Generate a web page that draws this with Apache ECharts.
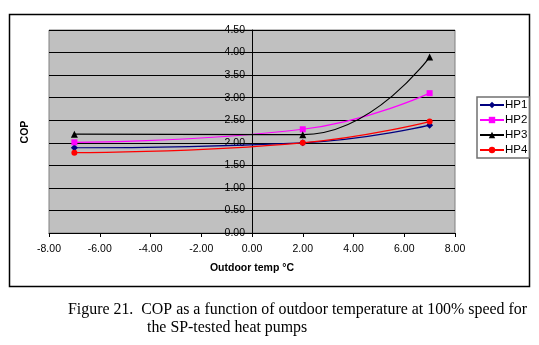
<!DOCTYPE html>
<html><head><meta charset="utf-8">
<script src="https://cdn.jsdelivr.net/npm/echarts@6/dist/echarts.min.js"></script>
<style>html,body{margin:0;padding:0;background:#fff}#c{width:539px;height:345px}</style>
</head><body><div id="c"></div>
<script>
const temps = [-7, 2, 7];
const hp1 = [1.89, 2.00, 2.39];
const hp2 = [2.01, 2.30, 3.10];
const hp3 = [2.19, 2.18, 3.90];
const hp4 = [1.78, 2.00, 2.47];
const seriesNames = ['HP1', 'HP2', 'HP3', 'HP4'];
const captionLines = ['Figure 21.  COP as a function of outdoor temperature at 100% speed for', 'the SP-tested heat pumps'];

const F = 'Liberation Sans, Arial, sans-serif';
const chart = echarts.init(document.getElementById('c'));
const GL = 49, GR = 455;
const yOffset = -((GR - GL) / 2); // put y axis at x = 0 of the -8..8 axis
function mk(name, vals, color, symbol, size) {
  return {
    name, type: 'line', smooth: 0.5, data: temps.map((t, i) => [t, vals[i]]),
    symbol, symbolSize: size, itemStyle: { color }, lineStyle: { color, width: 1.2 },
    z: 3
  };
}
chart.setOption({
  animation: false,
  textStyle: { fontFamily: F },
  grid: { left: GL, right: 539 - GR, top: 30, bottom: 112, show: true, backgroundColor: '#c0c0c0', borderColor: '#808080', borderWidth: 1 },
  xAxis: {
    type: 'value', min: -8, max: 8, interval: 2,
    name: 'Outdoor temp °C', nameLocation: 'middle', nameGap: 30,
    nameTextStyle: { fontFamily: F, fontWeight: 'bold', fontSize: 10.5, color: '#000' },
    axisLine: { onZero: false, lineStyle: { color: '#000', width: 1 } },
    axisTick: { show: true, length: 4, lineStyle: { color: '#000' } },
    axisLabel: { formatter: v => v.toFixed(2), fontSize: 10.5, color: '#000', margin: 11, fontFamily: F },
    splitLine: { show: false }
  },
  yAxis: {
    type: 'value', min: 0, max: 4.5, interval: 0.5, offset: yOffset,
    axisLine: { show: true, onZero: false, lineStyle: { color: '#000', width: 1 } },
    axisTick: { show: true, length: 4, lineStyle: { color: '#000' } },
    axisLabel: { formatter: v => v.toFixed(2), fontSize: 10.5, color: '#000', margin: 7, fontFamily: F },
    splitLine: { show: true, lineStyle: { color: '#000', width: 1 } }
  },
  legend: {
    orient: 'vertical', left: 477, top: 97, width: 50,
    data: seriesNames,
    backgroundColor: '#fff', borderColor: '#707070', borderWidth: 1.5,
    padding: [2, 2, 2, 2], itemGap: 3, itemWidth: 24, itemHeight: 8,
    textStyle: { fontFamily: F, fontSize: 11.5, color: '#000', padding: [0, 0, 0, -4] }
  },
  graphic: [
    { type: 'rect', shape: { x: 9.5, y: 14.5, width: 520, height: 272 }, style: { fill: 'none', stroke: '#000', lineWidth: 1.5 }, z: -10, silent: true },
    { type: 'text', x: 25, y: 132, rotation: Math.PI / 2, style: { text: 'COP', font: 'bold 10.5px ' + F, fill: '#000', align: 'center', verticalAlign: 'middle' }, silent: true },
    { type: 'text', x: 68, y: 302, style: { text: captionLines[0], font: '15.9px Liberation Serif, Times New Roman, serif', fill: '#000' } },
    { type: 'text', x: 147, y: 320, style: { text: captionLines[1], font: '15.9px Liberation Serif, Times New Roman, serif', fill: '#000' } }
  ],
  series: [
    mk('HP1', hp1, '#000080', 'diamond', 7),
    mk('HP2', hp2, '#ff00ff', 'rect', 6),
    mk('HP3', hp3, '#000000', 'triangle', 7),
    mk('HP4', hp4, '#ff0000', 'circle', 6)
  ]
});
</script></body></html>
